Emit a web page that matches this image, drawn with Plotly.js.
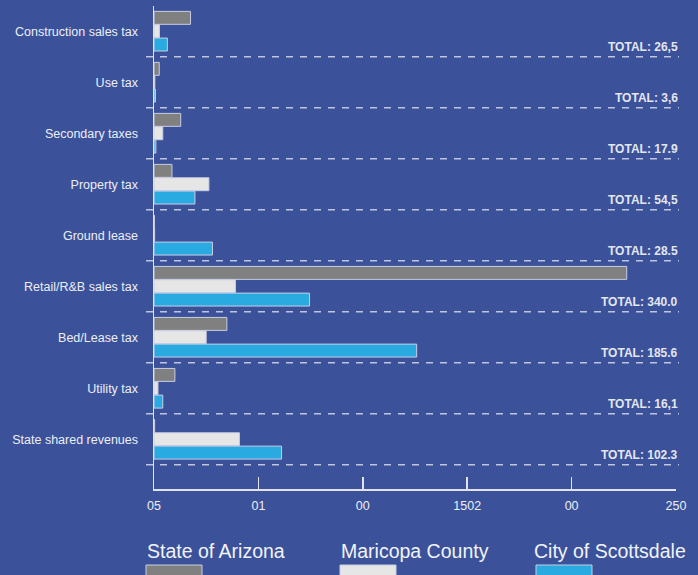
<!DOCTYPE html>
<html>
<head>
<meta charset="utf-8">
<script src="https://cdn.plot.ly/plotly-3.0.1.min.js"></script>
<style>
html,body{margin:0;padding:0;background:#3b529a;}
#chart{width:698px;height:575px;}
</style>
</head>
<body>
<div id="chart"></div>
<script>
const categories = ["Construction sales tax","Use tax","Secondary taxes","Property tax","Ground lease","Retail/R&B sales tax","Bed/Lease tax","Utility tax","State shared revenues"];
const stateOfArizona = [17.5, 2.5, 12.8, 8.6, 0.2, 226.4, 34.9, 10.0, 0.3];
const maricopaCounty = [2.6, 0.4, 4.2, 26.3, 0.3, 39.0, 25.0, 1.9, 40.9];
const cityOfScottsdale = [6.4, 0.7, 0.9, 19.6, 28.0, 74.5, 125.8, 4.2, 61.1];
const totals = ["26,5","3,6","17.9","54,5","28.5","340.0","185.6","16,1","102.3"];
const xTickVals = [0, 50, 100, 150, 200, 250];
const xTickText = ["05","01","00","1502","00","250"];
const seriesNames = ["State of Arizona","Maricopa County","City of Scottsdale"];
const seriesColors = ["#808080","#e6e6e6","#29abe2"];

const W = 698, H = 575;
const L = 154, R = 22, T = 6, B = 86;
const pw = W - L - R, ph = H - T - B;
const px2x = p => (p - L) / pw;
const py2y = p => (H - B - p) / ph;

const idx = categories.map((c,i)=>i);
const outline = {color:"#c9cde3", width:1};
const seriesData = [stateOfArizona, maricopaCounty, cityOfScottsdale];
const traces = seriesData.map((vals,k)=>({
  type:"bar", orientation:"h", x: vals, y: idx, name: seriesNames[k],
  marker:{color: seriesColors[k], line: outline},
  hoverinfo:"x+name"
}));

const shapes = [];
const annotations = [];
idx.forEach(i=>{
  shapes.push({type:"line", xref:"paper", yref:"y", x0:px2x(146), x1:px2x(679), y0:i+0.5, y1:i+0.5,
    line:{color:"#c0c5df", width:1.6, dash:"7px,7px"}});
  annotations.push({xref:"paper", yref:"y", x:px2x(680), y:i+0.5, xanchor:"right", yanchor:"bottom",
    yshift:1, showarrow:false, text:"TOTAL: "+totals[i],
    font:{family:"Liberation Sans, Arial, sans-serif", size:12, color:"#e4e6f0", weight:"bold"}});
});
const legendX = [145, 339, 532];
const swX = [146, 340, 536];
seriesNames.forEach((n,k)=>{
  annotations.push({xref:"paper", yref:"paper", x:px2x(legendX[k]), y:py2y(551), xanchor:"left", yanchor:"middle",
    showarrow:false, text:n, font:{family:"Liberation Sans, Arial, sans-serif", size:19.5, color:"#f2f3f8"}});
  shapes.push({type:"rect", xref:"paper", yref:"paper", x0:px2x(swX[k]), x1:px2x(swX[k]+56), y0:py2y(565), y1:py2y(582),
    fillcolor:seriesColors[k], line:{color:"#c9cde3", width:1}});
});

const layout = {
  width:W, height:H,
  margin:{l:L, r:R, t:T, b:B},
  paper_bgcolor:"#3b529a", plot_bgcolor:"#3b529a",
  barmode:"group", bargap:0.215, bargroupgap:0.03,
  showlegend:false,
  font:{family:"Liberation Sans, Arial, sans-serif", color:"#eceef5"},
  xaxis:{range:[0,250], tickvals:xTickVals, ticktext:xTickText, ticks:"inside", ticklen:12, tickwidth:1.5,
    tickcolor:"#e0e3ef", showline:true, linecolor:"#e0e3ef", linewidth:1.5, showgrid:false, zeroline:false,
    tickfont:{size:12.5, color:"#eceef5"}, ticklabelstandoff:4, fixedrange:true},
  yaxis:{range:[8.975,-0.494], tickvals:idx, ticktext:categories, ticks:"", showline:true,
    linecolor:"#e0e3ef", linewidth:1.5, showgrid:false, zeroline:false, ticklabelstandoff:12,
    tickfont:{size:12.5, color:"#eceef5"}, fixedrange:true},
  shapes:shapes, annotations:annotations
};
Plotly.newPlot("chart", traces, layout, {staticPlot:true});
</script>
</body>
</html>
